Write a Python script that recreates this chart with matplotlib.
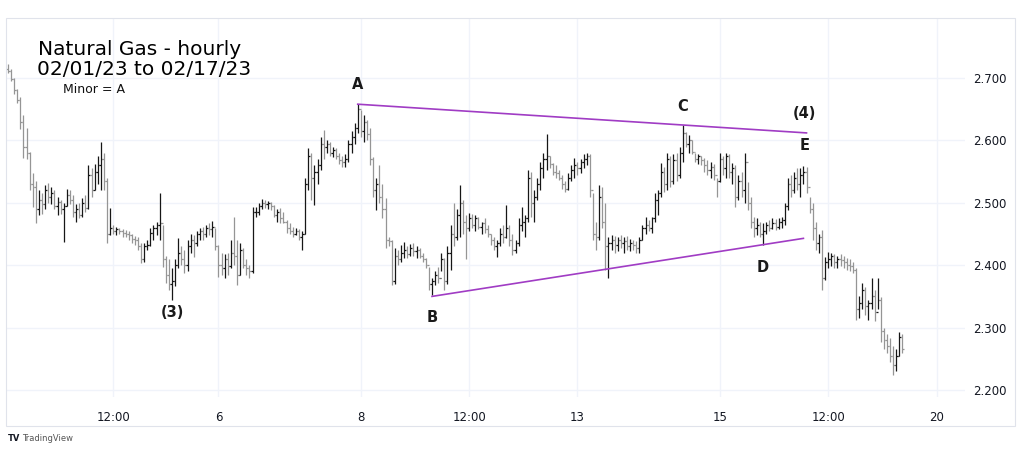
import numpy as np
import matplotlib
matplotlib.use("Agg")
import matplotlib.pyplot as plt
from matplotlib.collections import LineCollection
from matplotlib.patches import Rectangle

# hourly bars, prices in thousandths
HI = [2722, 2715, 2700, 2682, 2670, 2640, 2620, 2582, 2548, 2535,
      2520, 2515, 2528, 2532, 2525, 2520, 2510, 2505, 2500, 2522,
      2520, 2512, 2498, 2500, 2508, 2512, 2560, 2555, 2562, 2575,
      2597, 2580, 2540, 2492, 2465, 2462, 2460, 2458, 2457, 2455,
      2450, 2446, 2445, 2436, 2435, 2440, 2460, 2465, 2470, 2516,
      2465, 2415, 2410, 2395, 2410, 2444, 2430, 2425, 2440, 2450,
      2448, 2455, 2460, 2462, 2465, 2468, 2471, 2460, 2432, 2420,
      2418, 2420, 2440, 2477, 2440, 2435, 2428, 2410, 2400, 2493,
      2493, 2500, 2506, 2505, 2503, 2502, 2497, 2490, 2492, 2485,
      2472, 2468, 2462, 2460, 2458, 2455, 2540, 2588, 2580, 2560,
      2570, 2605, 2617, 2600, 2598, 2590, 2588, 2580, 2575, 2578,
      2600, 2615, 2628, 2658, 2649, 2640, 2632, 2620, 2573, 2540,
      2560, 2530, 2507, 2445, 2440, 2427, 2425, 2432, 2437, 2430,
      2434, 2436, 2430, 2428, 2420, 2412, 2397, 2380, 2390, 2397,
      2420, 2412, 2430, 2465, 2500, 2490, 2529, 2505, 2480, 2484,
      2482, 2480, 2477, 2470, 2475, 2465, 2450, 2445, 2440, 2460,
      2465, 2497, 2465, 2450, 2440, 2475, 2493, 2480, 2553, 2550,
      2520, 2540, 2565, 2580, 2610, 2575, 2563, 2560, 2552, 2545,
      2535, 2548, 2560, 2572, 2565, 2570, 2578, 2580, 2578, 2516,
      2470, 2528, 2525, 2500, 2445, 2448, 2446, 2445, 2448, 2445,
      2446, 2442, 2440, 2438, 2445, 2465, 2477, 2472, 2478, 2516,
      2520, 2563, 2558, 2580, 2575, 2578, 2580, 2590, 2625, 2613,
      2608, 2600, 2580, 2578, 2575, 2572, 2568, 2565, 2562, 2540,
      2580, 2575, 2580, 2578, 2563, 2560, 2545, 2550, 2580, 2533,
      2510, 2477, 2475, 2470, 2467, 2470, 2472, 2475, 2474, 2476,
      2477, 2500, 2540, 2545, 2550, 2556, 2555, 2559, 2557, 2510,
      2500, 2470, 2450, 2456, 2413, 2421, 2420, 2418, 2415, 2418,
      2415, 2412, 2410, 2405, 2395, 2350, 2371, 2365, 2345, 2380,
      2360, 2380, 2349, 2300, 2290, 2283, 2270, 2265, 2293, 2290]
LO = [2708, 2695, 2675, 2660, 2618, 2572, 2570, 2520, 2493, 2467,
      2480, 2482, 2490, 2500, 2498, 2490, 2480, 2482, 2437, 2495,
      2498, 2478, 2470, 2475, 2478, 2485, 2490, 2510, 2520, 2530,
      2520, 2520, 2436, 2448, 2450, 2448, 2450, 2445, 2445, 2440,
      2435, 2432, 2425, 2403, 2405, 2425, 2430, 2440, 2448, 2440,
      2397, 2371, 2360, 2344, 2366, 2395, 2400, 2387, 2390, 2420,
      2413, 2430, 2440, 2440, 2445, 2448, 2445, 2424, 2381, 2385,
      2380, 2385, 2395, 2400, 2368, 2385, 2395, 2385, 2379, 2387,
      2478, 2480, 2490, 2492, 2490, 2488, 2478, 2470, 2468, 2467,
      2452, 2450, 2445, 2448, 2440, 2424, 2450, 2520, 2505, 2497,
      2530, 2553, 2570, 2580, 2575, 2573, 2570, 2562, 2557, 2558,
      2565, 2580, 2595, 2612, 2605, 2597, 2600, 2560, 2510, 2488,
      2500, 2475, 2427, 2430, 2368, 2370, 2400, 2405, 2412, 2411,
      2414, 2415, 2412, 2411, 2405, 2395, 2360, 2352, 2368, 2372,
      2390, 2360, 2370, 2392, 2430, 2440, 2445, 2450, 2410, 2455,
      2460, 2455, 2458, 2450, 2452, 2445, 2432, 2425, 2413, 2430,
      2435, 2444, 2430, 2416, 2420, 2430, 2455, 2445, 2470, 2477,
      2470, 2505, 2520, 2540, 2553, 2555, 2545, 2540, 2537, 2522,
      2517, 2520, 2535, 2540, 2545, 2548, 2555, 2560, 2510, 2440,
      2424, 2440, 2460, 2392, 2380, 2425, 2420, 2422, 2428, 2420,
      2425, 2422, 2424, 2420, 2420, 2440, 2450, 2455, 2452, 2470,
      2480, 2510, 2517, 2520, 2525, 2530, 2535, 2540, 2565, 2590,
      2580, 2578, 2565, 2562, 2560, 2550, 2545, 2540, 2537, 2510,
      2533, 2545, 2540, 2540, 2530, 2493, 2505, 2510, 2500, 2488,
      2460, 2445, 2448, 2445, 2432, 2450, 2455, 2458, 2456, 2458,
      2460, 2465, 2488, 2510, 2515, 2520, 2510, 2530, 2516, 2484,
      2440, 2424, 2420, 2360, 2376, 2395, 2398, 2396, 2395, 2398,
      2395, 2392, 2390, 2388, 2312, 2315, 2330, 2320, 2312, 2330,
      2310, 2330, 2277, 2265, 2260, 2245, 2224, 2230, 2255, 2260]
CL = [2712, 2698, 2680, 2665, 2630, 2590, 2580, 2530, 2525, 2490,
      2505, 2498, 2520, 2510, 2515, 2495, 2502, 2490, 2495, 2512,
      2505, 2485, 2490, 2480, 2500, 2492, 2545, 2520, 2550, 2560,
      2570, 2535, 2450, 2460, 2455, 2458, 2455, 2452, 2450, 2448,
      2442, 2440, 2430, 2410, 2430, 2432, 2452, 2460, 2465, 2468,
      2410, 2385, 2370, 2375, 2400, 2420, 2410, 2400, 2430, 2440,
      2435, 2450, 2455, 2450, 2460, 2458, 2462, 2430, 2400, 2395,
      2410, 2398, 2420, 2415, 2385, 2425, 2400, 2395, 2390, 2485,
      2485, 2495, 2500, 2498, 2500, 2495, 2480, 2485, 2475, 2470,
      2460, 2455, 2450, 2455, 2445, 2450, 2530, 2575, 2540, 2550,
      2560, 2595, 2590, 2595, 2580, 2585, 2575, 2568, 2565, 2570,
      2595, 2605, 2620, 2650, 2615, 2630, 2610, 2570, 2520, 2530,
      2510, 2490, 2440, 2438, 2375, 2415, 2410, 2420, 2425, 2418,
      2428, 2422, 2425, 2415, 2410, 2400, 2370, 2375, 2385, 2380,
      2410, 2375, 2420, 2450, 2445, 2480, 2500, 2470, 2460, 2475,
      2465, 2475, 2462, 2468, 2458, 2450, 2440, 2430, 2435, 2450,
      2445, 2460, 2440, 2425, 2435, 2465, 2470, 2475, 2540, 2500,
      2510, 2530, 2555, 2570, 2575, 2562, 2550, 2548, 2540, 2530,
      2522, 2540, 2552, 2560, 2555, 2565, 2570, 2575, 2520, 2450,
      2445, 2510, 2470, 2430, 2435, 2440, 2432, 2440, 2435, 2438,
      2430, 2436, 2432, 2428, 2440, 2460, 2465, 2460, 2475, 2505,
      2515, 2550, 2530, 2570, 2535, 2568, 2545, 2580, 2612, 2595,
      2600, 2582, 2570, 2575, 2568, 2560, 2552, 2558, 2545, 2535,
      2570, 2555, 2575, 2550, 2555, 2510, 2535, 2520, 2565, 2500,
      2470, 2460, 2465, 2450, 2455, 2465, 2460, 2468, 2462, 2470,
      2472, 2495, 2530, 2520, 2540, 2530, 2545, 2550, 2525, 2490,
      2460, 2435, 2445, 2380, 2405, 2410, 2415, 2405, 2410, 2408,
      2405, 2400, 2398, 2392, 2330, 2340, 2360, 2335, 2340, 2350,
      2325, 2345, 2295, 2280, 2270, 2255, 2240, 2255, 2285, 2265]
FIRST_OPEN = 2715

TICK_BARS = [34, 68, 114, 149, 184, 230, 265, 300]
TICK_LABELS = ["12:00", "6", "8", "12:00", "13", "15", "12:00", "20"]
PRICE_TICKS = [2.2, 2.3, 2.4, 2.5, 2.6, 2.7]

# wave labels: text, bar, anchor (hi/lo), offset in points
WAVES = [("A", 113, "hi", 14), ("(3)", 53, "lo", -9), ("B", 137, "lo", -16),
         ("C", 218, "hi", 13), ("D", 244, "lo", -16), ("E", 258, "hi", 16),
         ("(4)", 258, "hi", 39)]
UPPER_X, UPPER_Y = [113, 258], [2.658, 2.612]
LOWER_X, LOWER_Y = [137, 257], [2.350, 2.443]

hi = np.array(HI) / 1000
lo = np.array(LO) / 1000
cl = np.array(CL) / 1000
op = np.concatenate([[FIRST_OPEN / 1000], cl[:-1]])
x = np.arange(len(cl))

W, H = 1024, 450
fig = plt.figure(figsize=(W / 100, H / 100), dpi=100)
ax = fig.add_axes([6 / W, (H - 397) / H, (965 - 6) / W, (397 - 18) / H])

segs, cols = [], []
for i in x:
    c = "#161616" if cl[i] >= op[i] else "#959595"
    segs += [[(i, lo[i]), (i, hi[i])],
             [(i - 0.5, op[i]), (i, op[i])],
             [(i, cl[i]), (i + 0.5, cl[i])]]
    cols += [c, c, c]
ax.add_collection(LineCollection(segs, colors=cols, linewidths=0.9, zorder=3))

ax.plot(UPPER_X, UPPER_Y, color="#a03cc4", lw=1.2, zorder=4)
ax.plot(LOWER_X, LOWER_Y, color="#a03cc4", lw=1.2, zorder=4)

for txt, b, where, dy in WAVES:
    yv = hi[b] if where == "hi" else lo[b]
    dx = -1.5 if txt in ("E", "(4)") else 0
    ax.annotate(txt, (b, yv), xytext=(dx, dy), textcoords="offset points",
                ha="center", va="center", fontsize=10.5, fontweight="bold",
                color="#1a1a1a")

ax.set_xlim((6 - 8) / 3.095, (965 - 8) / 3.095)
ax.set_ylim(2.7 - (397 - 78) / 624, 2.7 + 60 / 624)
ax.set_xticks(TICK_BARS)
ax.set_xticklabels(TICK_LABELS)
ax.set_yticks(PRICE_TICKS)
ax.set_yticklabels([f"{v:.3f}" for v in PRICE_TICKS])
ax.yaxis.tick_right()
ax.tick_params(axis="both", length=0, labelsize=8.5, colors="#131722")
ax.tick_params(axis="x", pad=10)
ax.tick_params(axis="y", pad=6)
ax.grid(True, color="#f0f3fa", lw=1.0, zorder=0)
for s in ax.spines.values():
    s.set_visible(False)

fig.patches.append(Rectangle((6 / W, (H - 426) / H), (1015 - 6) / W, (426 - 18) / H,
                             transform=fig.transFigure, fill=False,
                             ec="#e0e3eb", lw=0.8))

fig.text(38 / W, 1 - 55 / H, "Natural Gas - hourly", fontsize=14.5,
         color="#000000", va="baseline")
fig.text(37 / W, 1 - 75 / H, "02/01/23 to 02/17/23", fontsize=14.5,
         color="#000000", va="baseline")
fig.text(63 / W, 1 - 93 / H, "Minor = A", fontsize=9, color="#111111",
         va="baseline")
fig.text(8 / W, 1 - 441 / H, "TV", fontsize=6, fontweight="bold", color="#131722")
fig.text(22 / W, 1 - 441 / H, "TradingView", fontsize=6, color="#555555")

fig.savefig("out.png", dpi=100)
